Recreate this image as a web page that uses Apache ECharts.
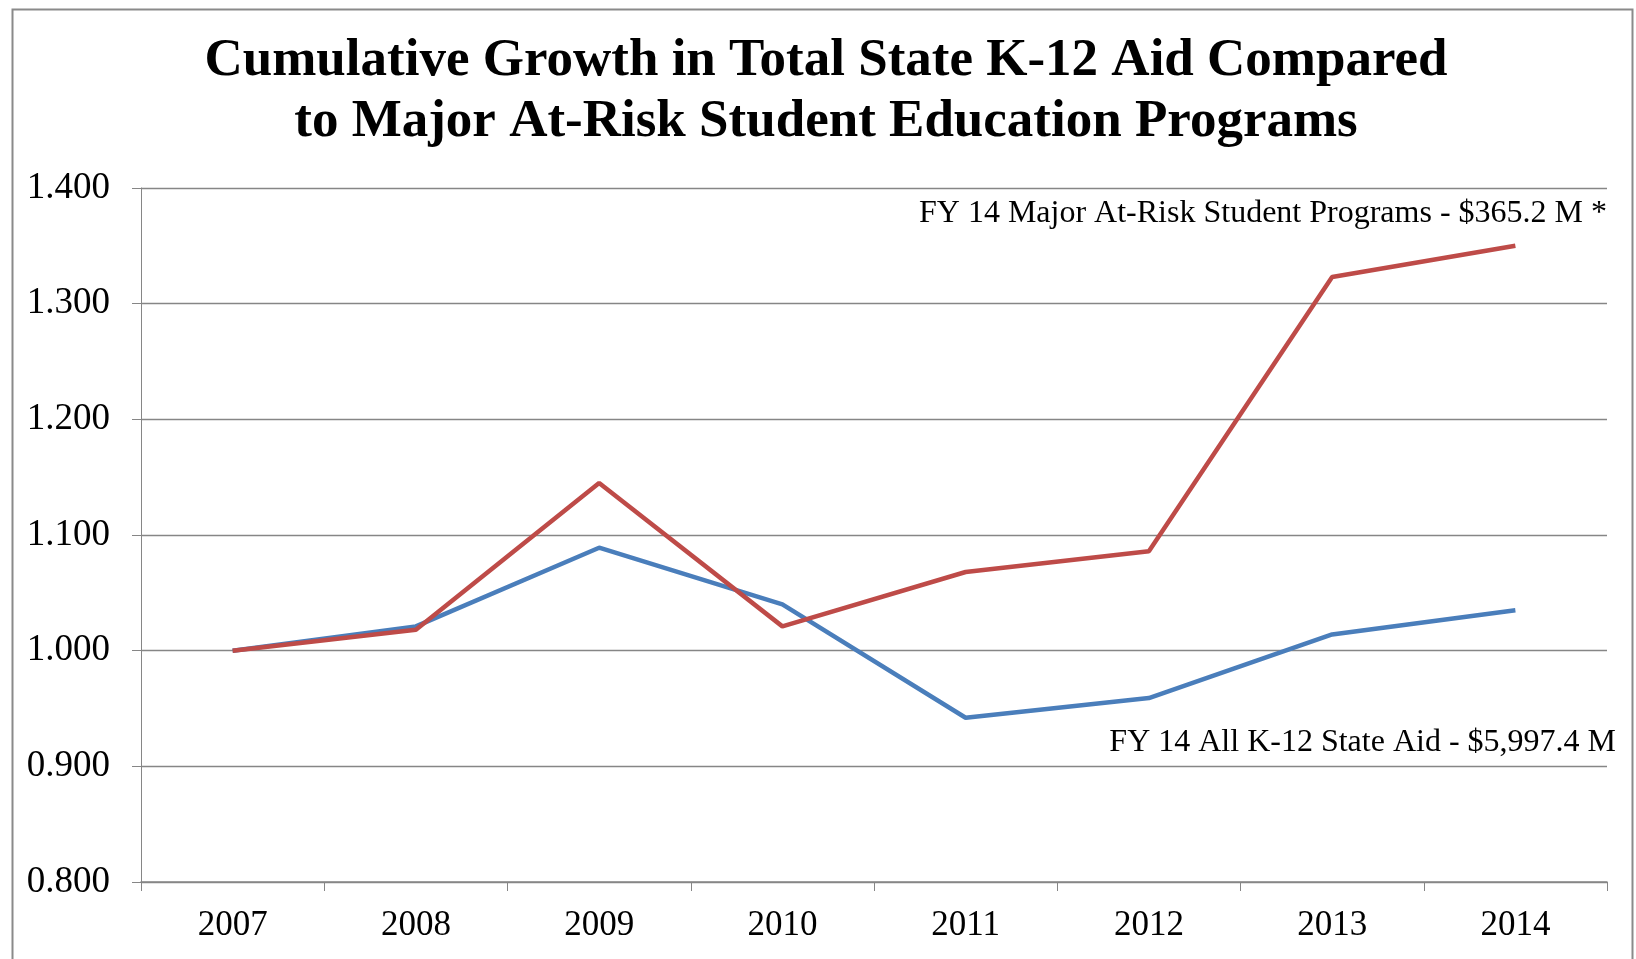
<!DOCTYPE html>
<html><head><meta charset="utf-8">
<script src="https://cdn.jsdelivr.net/npm/echarts@6/dist/echarts.min.js"></script>
<style>html,body{margin:0;padding:0;background:#fff}#c{width:1636px;height:959px}</style>
</head><body><div id="c"></div>
<script>
const years = ['2007','2008','2009','2010','2011','2012','2013','2014'];
const allAid = [1.000, 1.021, 1.089, 1.040, 0.942, 0.959, 1.014, 1.035];
const atRisk = [1.000, 1.018, 1.145, 1.021, 1.068, 1.086, 1.323, 1.350];
const yTicks = [0.8, 1.4, 0.1];
const titleText = 'Cumulative Growth in Total State K-12 Aid Compared\nto Major At-Risk Student Education Programs';
const atRiskLabel = 'FY 14 Major At-Risk Student Programs - $365.2 M *';
const allAidLabel = 'FY 14 All K-12 State Aid - $5,997.4 M';

const serif = '"Liberation Serif", "Times New Roman", serif';
const chart = echarts.init(document.getElementById('c'), null, {renderer:'canvas'});
chart.setOption({
  backgroundColor:'#fff',
  animation:false,
  title:{
    text:titleText, left:821, top:26, textAlign:'center',
    textStyle:{fontFamily:serif, fontWeight:'bold', fontSize:53, lineHeight:61, color:'#000', align:'center'}
  },
  grid:{left:141, right:29, top:188, bottom:77, containLabel:false},
  xAxis:{
    type:'category', data:years, boundaryGap:true,
    axisLine:{lineStyle:{color:'#868686', width:1.5}},
    axisTick:{show:true, length:9, lineStyle:{color:'#868686'}},
    axisLabel:{fontFamily:serif, fontSize:35, color:'#000', margin:26}
  },
  yAxis:{
    type:'value', min:yTicks[0], max:yTicks[1], interval:yTicks[2],
    axisLine:{show:true, lineStyle:{color:'#868686', width:1}},
    axisTick:{show:true, length:9, lineStyle:{color:'#868686'}},
    splitLine:{lineStyle:{color:'#868686', width:1.3}},
    axisLabel:{fontFamily:serif, fontSize:37, color:'#000', margin:31,
      formatter:v=>v.toFixed(3)}
  },
  series:[
    {name:'All K-12 State Aid', type:'line', data:allAid, symbol:'none',
     lineStyle:{color:'#4A7EBB', width:4.5}},
    {name:'Major At-Risk Student Programs', type:'line', data:atRisk, symbol:'none',
     lineStyle:{color:'#BE4B48', width:4.5}}
  ],
  graphic:[
    {type:'rect', left:10, top:7, shape:{width:1620, height:970}, z:-1,
     style:{fill:'none', stroke:'#8a8a8a', lineWidth:2}},
    {type:'text', right:29, top:198, style:{text:atRiskLabel, font:'32px '+serif, fill:'#000'}},
    {type:'text', right:20, top:727, style:{text:allAidLabel, font:'32px '+serif, fill:'#000'}}
  ]
});
</script></body></html>
